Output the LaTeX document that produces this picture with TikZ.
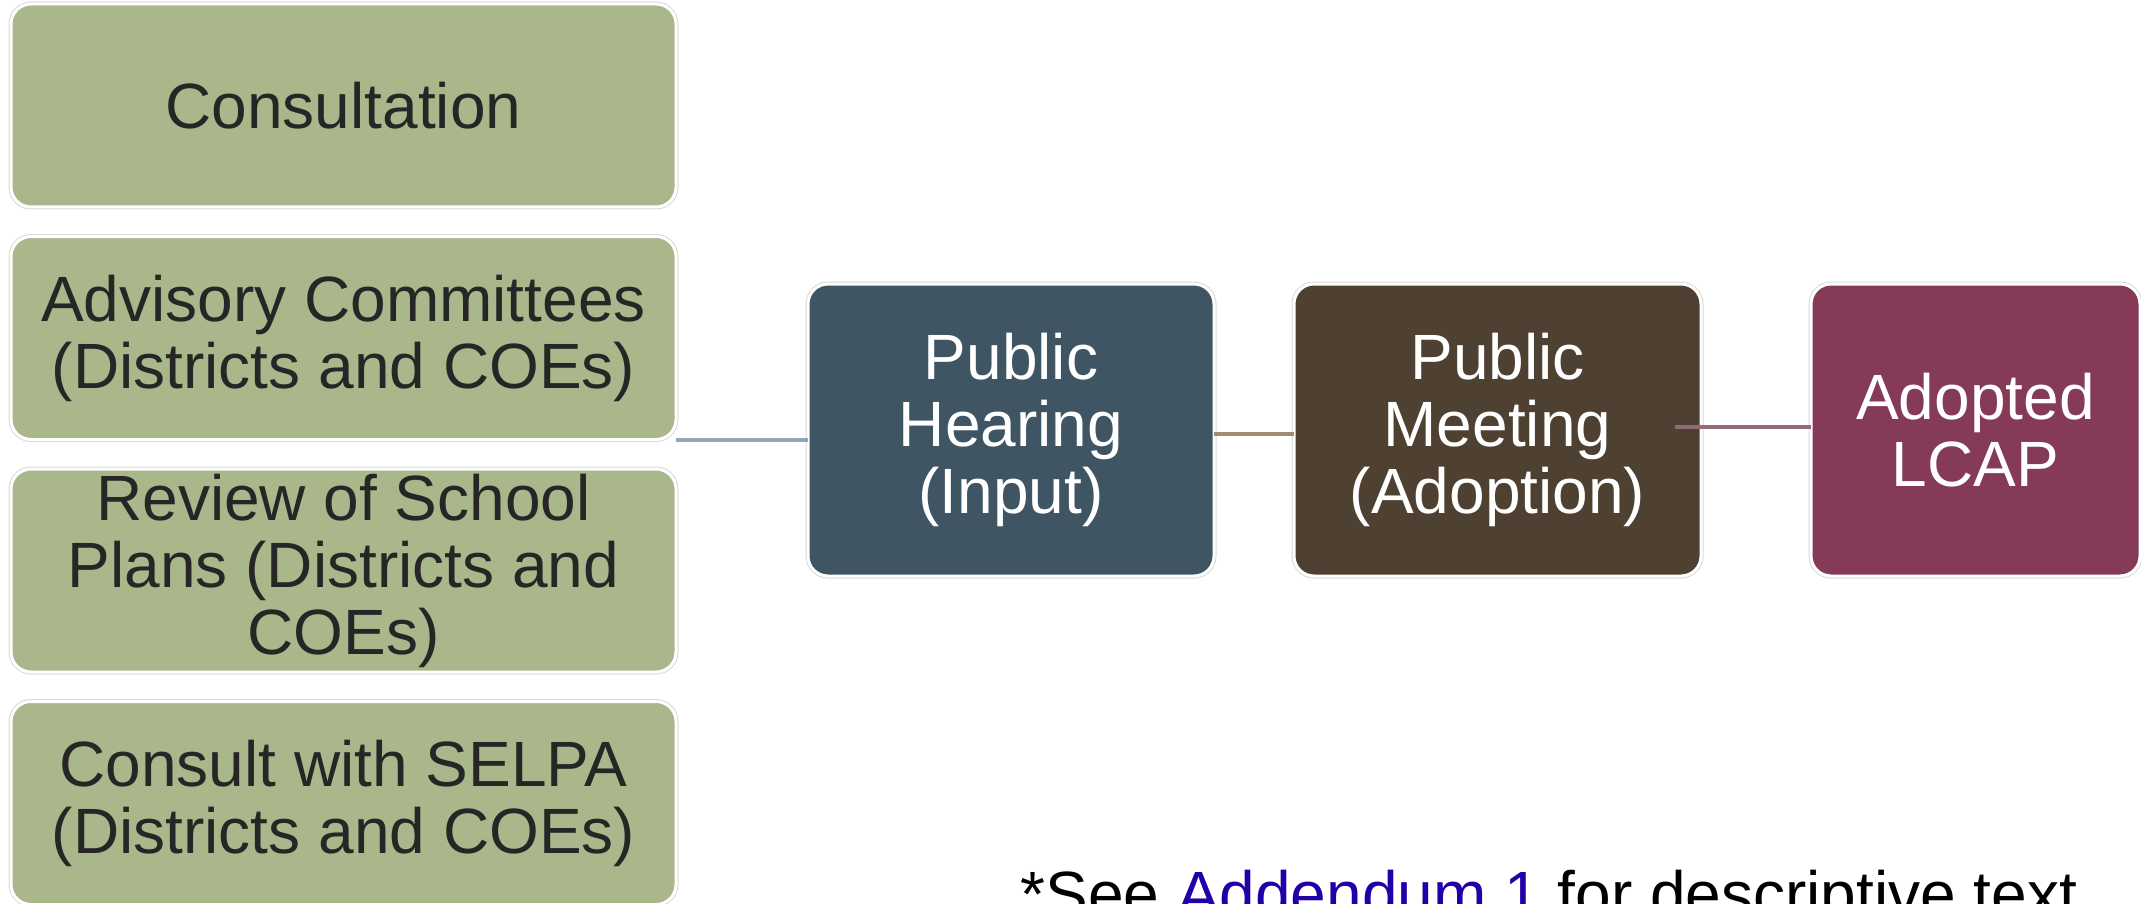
\documentclass[tikz,border=0pt]{standalone}
\usepackage{fontspec}
\setmainfont{Liberation Sans}
\usetikzlibrary{positioning}
\definecolor{sage}{HTML}{A9B78A}
\definecolor{slate}{HTML}{3F5564}
\definecolor{umber}{HTML}{4E4131}
\definecolor{plum}{HTML}{853B58}
\definecolor{linkblue}{HTML}{2200A8}
\definecolor{lineslate}{HTML}{91A7B5}
\definecolor{lineumber}{HTML}{A38B6E}
\definecolor{lineplum}{HTML}{8E6A7A}

\begin{document}
\begin{tikzpicture}[x=1pt, y=-1pt, node distance=29.5pt,
    box/.style={rectangle, rounded corners=20pt, align=center, outer sep=0pt,
      preaction={draw=black!15, line width=5pt}, draw=white, line width=3pt,
      font=\fontsize{64}{67}\selectfont},
    link/.style={line width=4pt}]
  \useasboundingbox (0,0) rectangle (2141,904);
  \begin{scope}[every node/.style={box, fill=sage, text=black!85,
      minimum width=665pt, minimum height=203pt}]
    \node (cons) at (343.5,105.5) {Consultation};
    \node (adv) [below=of cons] {Advisory Committees\\(Districts and COEs)};
    \node (rev) [below=of adv] {Review of School\\Plans (Districts and\\COEs)};
    \node (selpa) [below=of rev] {Consult with SELPA\\(Districts and COEs)};
  \end{scope}
  \begin{scope}[every node/.style={box, text=white, minimum height=292pt}]
    \node[fill=slate, minimum width=406pt] (hear) at (1011,430) {Public\\Hearing\\(Input)};
    \node[fill=umber, minimum width=407pt] (meet) [right=80pt of hear] {Public\\Meeting\\(Adoption)};
    \node[fill=plum, minimum width=329pt] (lcap) [right=110pt of meet] {Adopted\\LCAP};
  \end{scope}
  \draw[link, lineslate] (adv.south east) -- (adv.south east -| hear.west);
  \draw[link, lineumber] ([yshift=-4pt]hear.east) -- ([yshift=-4pt]meet.west);
  \draw[link, lineplum] ([xshift=-26pt, yshift=3pt]meet.east) -- ([yshift=3pt]lcap.west);
  \node[anchor=base west, font=\fontsize{64}{67}\selectfont] (note) at (1017,916)
    {*See \textcolor{linkblue}{Addendum 1} for descriptive text};
\end{tikzpicture}
\end{document}
